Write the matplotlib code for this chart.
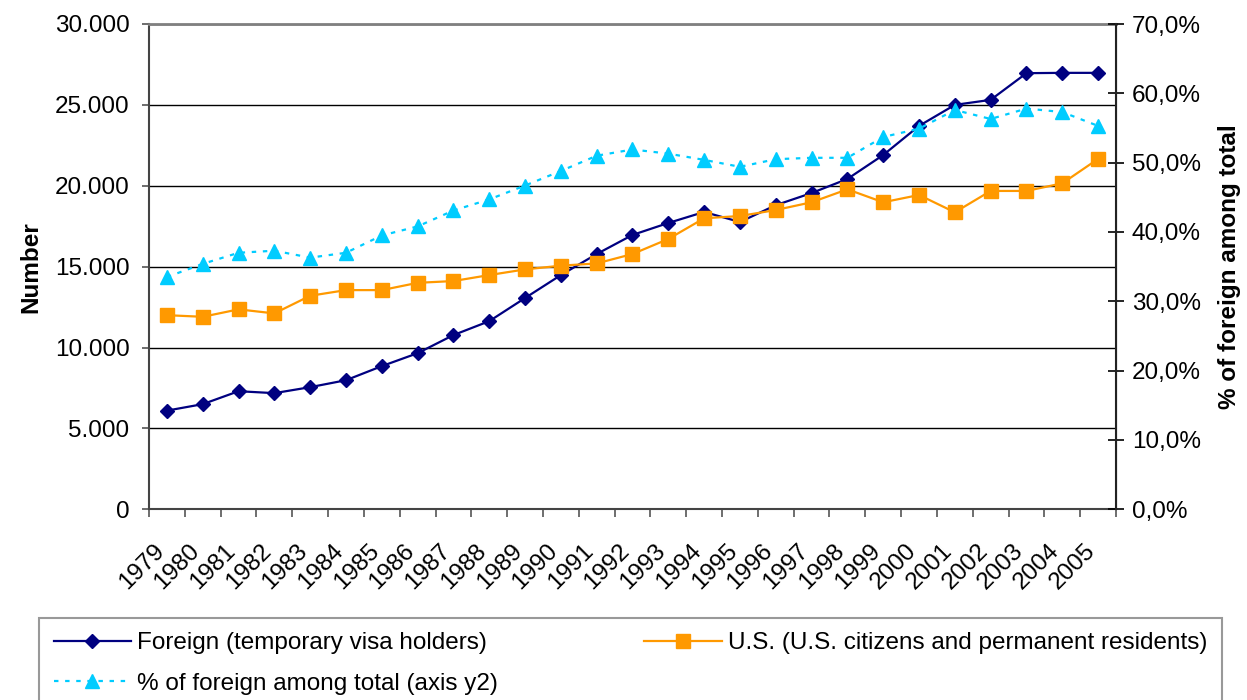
import numpy as np
import matplotlib
matplotlib.use("Agg")
import matplotlib.pyplot as plt
import matplotlib.transforms as mtransforms
from matplotlib.ticker import FuncFormatter, FixedLocator

plt.rcParams['font.family'] = ['Liberation Sans', 'DejaVu Sans']

# -----------------------
# Data
# -----------------------
years = [str(y) for y in range(1979, 2006)]

foreign = [6100, 6500, 7300, 7180, 7550, 7980, 8850, 9650, 10770, 11630,
           13060, 14480, 15780, 16960, 17700, 18380, 17760, 18800, 19550, 20420,
           21900, 23700, 25000, 25310, 26960, 26980, 26980]

us = [12000, 11900, 12360, 12110, 13200, 13550, 13550, 14000, 14110, 14480,
      14830, 15060, 15200, 15780, 16710, 17990, 18130, 18500, 18980, 19780,
      18980, 19430, 18360, 19680, 19680, 20150, 21660]

pct_foreign = [33.5, 35.4, 37.0, 37.3, 36.3, 37.0, 39.5, 40.8, 43.1, 44.7,
               46.7, 48.8, 51.0, 51.9, 51.3, 50.4, 49.4, 50.5, 50.7, 50.7,
               53.7, 54.9, 57.6, 56.3, 57.8, 57.3, 55.3]

left_ticks = [0, 5000, 10000, 15000, 20000, 25000, 30000]
right_ticks = [0, 10, 20, 30, 40, 50, 60, 70]

FS = 17.5

# -----------------------
# Figure
# -----------------------
fig = plt.figure(figsize=(12.47, 7.0), dpi=100)
ax = fig.add_axes([149 / 1247, 1 - 509.3 / 700, 967 / 1247, 485.3 / 700])

x = np.arange(len(years))

l1, = ax.plot(x, foreign, color='#000080', lw=1.6, marker='D', ms=7,
              label='Foreign (temporary visa holders)')
l2, = ax.plot(x, us, color='#FF9900', lw=1.6, marker='s', ms=10,
              label='U.S. (U.S. citizens and permanent residents)')

ax.set_xlim(-0.5, len(years) - 0.5)
ax.set_ylim(0, 30000)
ax.set_yticks(left_ticks)
ax.yaxis.set_major_formatter(FuncFormatter(
    lambda v, p: '{:,.0f}'.format(v).replace(',', '.')))
ax.grid(axis='y', color='black', lw=1.0)
ax.set_axisbelow(True)

ax.set_xticks(x)
ax.set_xticklabels(years, rotation=45, ha='right', rotation_mode='anchor')
ax.tick_params(axis='x', which='major', length=0, pad=22, labelsize=FS)
shift = mtransforms.ScaledTranslation(-14 / 100, 0, fig.dpi_scale_trans)
for lab in ax.get_xticklabels():
    lab.set_transform(lab.get_transform() + shift)
ax.xaxis.set_minor_locator(FixedLocator(np.arange(-0.5, len(years), 1.0)))
ax.tick_params(axis='x', which='minor', length=6, width=1.2, color='#555555',
               direction='out')
ax.tick_params(axis='y', length=5, width=1.2, color='#555555', labelsize=FS, pad=9)

ax.set_ylabel('Number', fontsize=FS, fontweight='bold', labelpad=9)

for s in ['left', 'bottom']:
    ax.spines[s].set_color('#444444')
    ax.spines[s].set_linewidth(1.5)
ax.spines['top'].set_color('#808080')
ax.spines['top'].set_linewidth(2)

ax2 = ax.twinx()
l3, = ax2.plot(x, pct_foreign, color='#00CCFF', lw=1.6, ls=(0, (2, 3)),
               marker='^', ms=10, label='% of foreign among total (axis y2)')
ax2.set_ylim(0, 70)
ax2.set_yticks(right_ticks)
ax2.yaxis.set_major_formatter(FuncFormatter(
    lambda v, p: '{:.1f}%'.format(v).replace('.', ',')))
ax2.tick_params(axis='y', length=11, width=1.2, color='black', direction='inout',
                labelsize=FS, pad=6)
ax2.spines['right'].set_color('#222222')
ax2.spines['right'].set_linewidth(1.5)
ax2.spines['top'].set_visible(False)
ax2.spines['left'].set_visible(False)
ax2.spines['bottom'].set_visible(False)
ax2.set_ylabel('% of foreign among total', fontsize=FS, fontweight='bold',
               labelpad=12)

leg = fig.legend(handles=[l1, l3, l2], ncol=2,
                 bbox_to_anchor=(39 / 1247, 1 - 617.7 / 700),
                 loc='upper left', fontsize=FS, frameon=True, fancybox=False,
                 handlelength=3.2, handletextpad=0.25, columnspacing=6.0,
                 labelspacing=0.75, borderaxespad=0, borderpad=0.6)
leg.get_frame().set_edgecolor('#808080')
leg.get_frame().set_linewidth(1.5)

fig.savefig('out.png', dpi=100)
